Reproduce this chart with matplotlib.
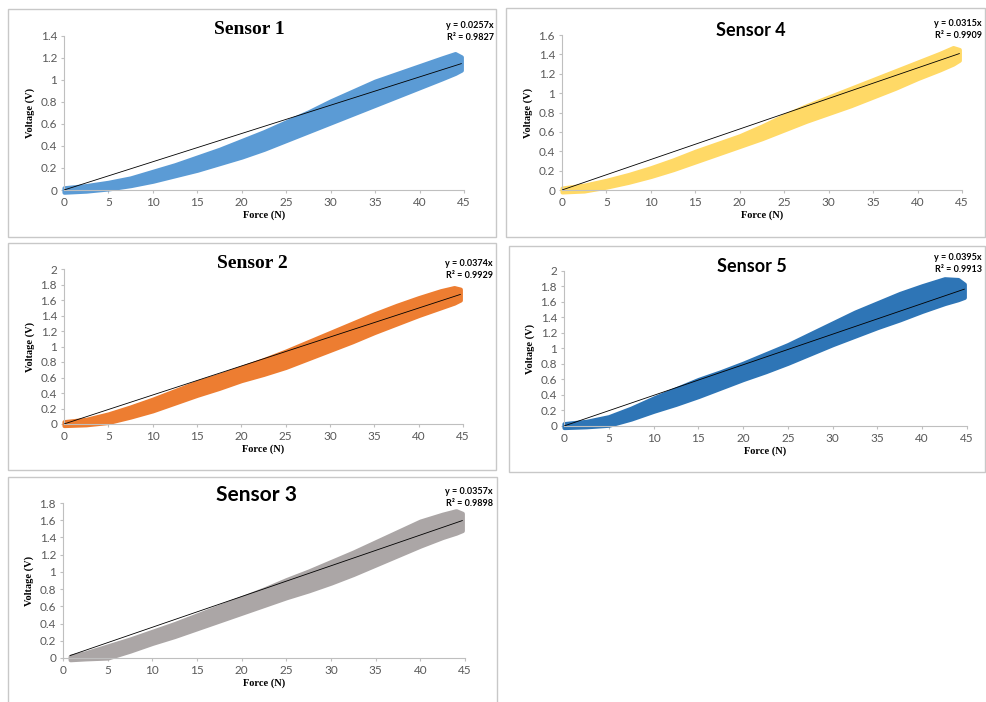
import matplotlib
matplotlib.use("Agg")
import matplotlib.pyplot as plt
from matplotlib.patches import Rectangle

W, H = 987, 702

# data (upper / lower edge of the scatter cloud, volts)
force = [0, 2.5, 5, 7.5, 10, 12.5, 15, 17.5, 20, 22.5, 25, 27.5, 30, 32.5,
         35, 37.5, 40, 42.5, 44, 44.7]
force_s3 = [0.8, 2.5, 5, 7.5, 10, 12.5, 15, 17.5, 20, 22.5, 25, 27.5, 30,
            32.5, 35, 37.5, 40, 42.5, 44, 44.7]

s1_upper = [0.02, 0.04, 0.07, 0.11, 0.17, 0.23, 0.30, 0.37, 0.45, 0.53, 0.62,
            0.71, 0.81, 0.90, 0.99, 1.06, 1.13, 1.20, 1.24, 1.21]
s1_lower = [-0.02, -0.01, 0.01, 0.04, 0.08, 0.13, 0.18, 0.24, 0.30, 0.37, 0.45,
            0.53, 0.61, 0.69, 0.77, 0.85, 0.93, 1.01, 1.06, 1.09]

s2_upper = [0.03, 0.06, 0.13, 0.22, 0.32, 0.43, 0.54, 0.63, 0.73, 0.83, 0.94,
            1.06, 1.18, 1.30, 1.42, 1.53, 1.63, 1.72, 1.76, 1.74]
s2_lower = [-0.02, -0.01, 0.02, 0.09, 0.17, 0.27, 0.37, 0.46, 0.56, 0.64, 0.73,
            0.84, 0.95, 1.06, 1.18, 1.29, 1.40, 1.50, 1.56, 1.60]

s3_upper = [0.02, 0.06, 0.14, 0.22, 0.31, 0.40, 0.50, 0.60, 0.70, 0.80, 0.91,
            1.01, 1.12, 1.23, 1.35, 1.47, 1.59, 1.67, 1.71, 1.68]
s3_lower = [-0.02, -0.01, 0.00, 0.08, 0.17, 0.25, 0.34, 0.43, 0.52, 0.61, 0.70,
            0.78, 0.87, 0.97, 1.08, 1.19, 1.30, 1.40, 1.45, 1.48]

s4_upper = [0.02, 0.05, 0.10, 0.16, 0.23, 0.31, 0.40, 0.48, 0.56, 0.66, 0.77,
            0.87, 0.96, 1.05, 1.14, 1.23, 1.32, 1.41, 1.47, 1.45]
s4_lower = [-0.02, -0.01, 0.03, 0.08, 0.14, 0.21, 0.29, 0.37, 0.45, 0.53, 0.62,
            0.71, 0.79, 0.87, 0.96, 1.05, 1.15, 1.24, 1.30, 1.34]

s5_upper = [0.03, 0.06, 0.12, 0.23, 0.36, 0.48, 0.60, 0.70, 0.81, 0.93, 1.05,
            1.19, 1.33, 1.47, 1.59, 1.71, 1.81, 1.90, 1.89, 1.83]
s5_lower = [-0.02, -0.01, 0.01, 0.09, 0.19, 0.28, 0.38, 0.49, 0.60, 0.70, 0.81,
            0.93, 1.05, 1.16, 1.27, 1.37, 1.48, 1.58, 1.63, 1.66]

slopes = [0.0257, 0.0374, 0.0357, 0.0315, 0.0395]
r2 = [0.9827, 0.9929, 0.9898, 0.9909, 0.9913]
titles = ["Sensor 1", "Sensor 2", "Sensor 3", "Sensor 4", "Sensor 5"]
colors = ["#5B9BD5", "#ED7D31", "#ABA6A6", "#FFD966", "#2E75B6"]
ymax = [1.4, 2.0, 1.8, 1.6, 2.0]

# layout in pixels: axes box (x0, x1, ytop, ybottom), panel frame, title, equation
ax_px = [(64, 464, 36, 190), (64, 463, 269, 424), (63, 465, 503, 658),
         (562, 962, 35, 190), (564, 967, 271, 426)]
frame_px = [(8, 496, 9, 237), (8, 496, 243, 470), (8, 497, 477, 706),
            (506, 985, 8, 237), (509, 985, 246, 472)]
title_px = [(249, 29), (252, 264), (257, 495), (751, 30), (752, 266)]
title_font = [("Liberation Serif", 14), ("Liberation Serif", 14), ("Lato", 15),
              ("Lato", 13), ("Lato", 13)]
eq_px = [(494, 25), (493, 263), (493, 491), (982, 23), (982, 257)]

bands = [(force, s1_upper, s1_lower), (force, s2_upper, s2_lower),
         (force_s3, s3_upper, s3_lower), (force, s4_upper, s4_lower),
         (force, s5_upper, s5_lower)]

fig = plt.figure(figsize=(W / 100, H / 100), dpi=100)

for i in range(5):
    fx0, fx1, fy0, fy1 = frame_px[i]
    fig.patches.append(Rectangle((fx0 / W, 1 - fy1 / H), (fx1 - fx0) / W, (fy1 - fy0) / H,
                                 transform=fig.transFigure, fill=False,
                                 edgecolor="#C8C8C8", lw=1.0))

    x0, x1, yt, yb = ax_px[i]
    ax = fig.add_axes([x0 / W, 1 - yb / H, (x1 - x0) / W, (yb - yt) / H])
    fx, upper, lower = bands[i]
    ax.fill_between(fx, lower, upper, color=colors[i], lw=3,
                    edgecolor=colors[i], joinstyle="round", capstyle="round",
                    clip_on=False, zorder=2)
    x_start = fx[0]
    ax.plot([x_start, 44.7], [slopes[i] * x_start, slopes[i] * 44.7],
            color="black", lw=0.6, zorder=3)

    ax.set_xlim(0, 45)
    ax.set_ylim(0, ymax[i])
    ax.set_xticks(range(0, 46, 5))
    yt_vals = [round(0.2 * k, 1) for k in range(int(round(ymax[i] / 0.2)) + 1)]
    ax.set_yticks(yt_vals)
    ax.set_yticklabels([f"{v:g}" for v in yt_vals])
    for s in ["top", "right"]:
        ax.spines[s].set_visible(False)
    for s in ["left", "bottom"]:
        ax.spines[s].set_color("#BFBFBF")
        ax.spines[s].set_linewidth(0.8)
    ax.tick_params(length=2, width=0.8, color="#BFBFBF", labelcolor="#595959",
                   labelsize=8.5, pad=3)
    for lab in ax.get_xticklabels() + ax.get_yticklabels():
        lab.set_family("Lato")
    ax.set_xlabel("Force (N)", family="Liberation Serif", weight="bold",
                  fontsize=7.5, labelpad=2)
    ax.set_ylabel("Voltage (V)", family="Liberation Serif", weight="bold",
                  fontsize=7.5, labelpad=4)

    tx, ty = title_px[i]
    fam, size = title_font[i]
    fig.text(tx / W, 1 - ty / H, titles[i], family=fam, weight="bold",
             fontsize=size, ha="center", va="center")
    ex, ey = eq_px[i]
    fig.text(ex / W, 1 - ey / H, f"y = {slopes[i]:.4f}x", family="Lato",
             weight="bold", fontsize=6.5, ha="right", va="center")
    fig.text(ex / W, 1 - (ey + 13) / H, f"R² = {r2[i]:.4f}", family="Lato",
             weight="bold", fontsize=6.5, ha="right", va="center")

fig.savefig("out.png", dpi=100, facecolor="white")
